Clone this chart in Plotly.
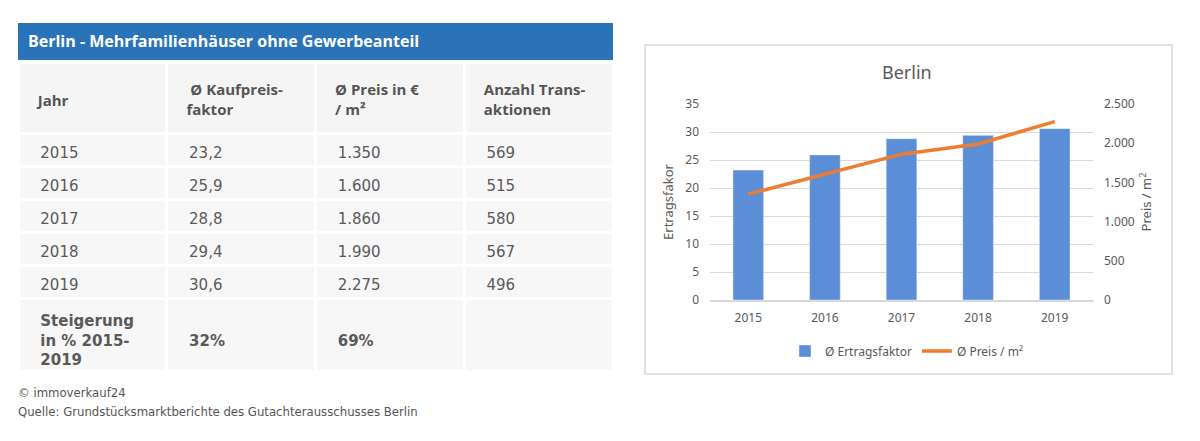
import plotly.graph_objects as go

# ---- data ----
years = ["2015", "2016", "2017", "2018", "2019"]
kaufpreisfaktor = [23.2, 25.9, 28.8, 29.4, 30.6]
preis_m2 = [1350, 1600, 1860, 1990, 2275]
transaktionen = [569, 515, 580, 567, 496]
kpf_labels = ["23,2", "25,9", "28,8", "29,4", "30,6"]
preis_labels = ["1.350", "1.600", "1.860", "1.990", "2.275"]
steigerung_label = ["Steigerung", "in % 2015-", "2019"]
steigerung_kpf = "32%"
steigerung_preis = "69%"
header_labels = [["Jahr"], [" Ø Kaufpreis-", "faktor"], ["Ø Preis in €", "/ m²"], ["Anzahl Trans-", "aktionen"]]
table_title = "Berlin - Mehrfamilienhäuser ohne Gewerbeanteil"
chart_title = "Berlin"
bar_name = "Ø Ertragsfaktor"
line_name = "Ø Preis / m²"
left_axis_title = "Ertragsfakor"
right_axis_title = "Preis / m<sup>2</sup>"
credit = "© immoverkauf24"
source = "Quelle: Grundstücksmarktberichte des Gutachterausschusses Berlin"

W, H = 1200, 441
def px(x):
    return x / W
def py(y):
    return 1 - y / H

NB = "\u00a0"
pad = NB * 3

def cell_lines(parts, bold=False):
    out = []
    for p in parts:
        t = "<b>" + p + "</b>" if bold else p
        out.append(pad + t)
    return "<br>".join(out)

TX0, TX1 = 18, 613
COLW = (TX1 - TX0) / 4
TOP = 62
HEADER_H = 71
ROW_H = 33
TEXT_DROP = 6          # table text is top-aligned; drop it to sit mid-row
HDR2_DROP = 9          # two-line headers sit lower in their cell

data_font = dict(family="DejaVu Sans", size=15, color="#5a5a5a")
hdr_font = dict(family="Open Sans", size=15, color="#555555")
clear = "rgba(0,0,0,0)"

fig = go.Figure()

# background grid of the table (cells and white separators)
n_rows = len(years) + 1
spacer = NB + "<br>" + NB + "<br>" + NB
bg_col = [""] * len(years) + [spacer]
fig.add_trace(go.Table(
    domain=dict(x=[px(TX0), px(TX1)], y=[py(390), py(TOP)]),
    columnwidth=[1, 1, 1, 1],
    header=dict(values=["", "", "", ""], fill_color="#f5f5f5",
                line=dict(color="white", width=3), height=HEADER_H, font=hdr_font),
    cells=dict(values=[bg_col] * 4, fill_color="#f7f7f7",
               line=dict(color="white", width=3), height=ROW_H, font=data_font),
))

# text of column 1
col1 = [pad + y for y in years] + [cell_lines(steigerung_label, bold=True)]
fig.add_trace(go.Table(
    domain=dict(x=[px(TX0), px(TX0 + COLW)], y=[py(390), py(TOP)]),
    header=dict(values=[NB + "<br>" + cell_lines(header_labels[0], bold=True)],
                fill_color=clear, line=dict(color=clear, width=0),
                align="left", height=HEADER_H + TEXT_DROP, font=hdr_font),
    cells=dict(values=[col1], fill_color=clear, line=dict(color=clear, width=0),
               align="left", height=ROW_H, font=data_font),
))

# text of columns 2-4
col2 = [pad + v for v in kpf_labels] + [NB + "<br>" + pad + "<b>" + steigerung_kpf + "</b>"]
col3 = [pad + v for v in preis_labels] + [NB + "<br>" + pad + "<b>" + steigerung_preis + "</b>"]
col4 = [pad + str(v) for v in transaktionen] + [NB]
fig.add_trace(go.Table(
    domain=dict(x=[px(TX0 + COLW), px(TX1)], y=[py(390), py(TOP + HDR2_DROP)]),
    columnwidth=[1, 1, 1],
    header=dict(values=[cell_lines(h, bold=True) for h in header_labels[1:]],
                fill_color=clear, line=dict(color=clear, width=0),
                align="left", height=HEADER_H + TEXT_DROP - HDR2_DROP, font=hdr_font),
    cells=dict(values=[col2, col3, col4], fill_color=clear, line=dict(color=clear, width=0),
               align="left", height=ROW_H, font=data_font),
))

fig.add_trace(go.Bar(
    x=years, y=kaufpreisfaktor, name=bar_name,
    marker=dict(color="#5b8ed6"),
    xaxis="x", yaxis="y",
))
fig.add_trace(go.Scatter(
    x=years, y=preis_m2, name=line_name, mode="lines",
    line=dict(color="#ed7d31", width=3.5),
    xaxis="x", yaxis="y2",
))

axis_font = dict(family="Noto Sans", size=12, color="#595959")

fig.update_layout(
    width=W, height=H,
    margin=dict(l=0, r=0, t=0, b=0, autoexpand=False),
    paper_bgcolor="white",
    plot_bgcolor="white",
    separators=",.",
    bargap=0.6,
    showlegend=True,
    legend=dict(orientation="h", x=px(907), xanchor="center", y=py(351), yanchor="middle",
                font=dict(family="Noto Sans", size=12, color="#595959"),
                traceorder="normal"),
    xaxis=dict(domain=[px(710), px(1093)], type="category", anchor="y",
               showline=True, linecolor="#d9d9d9", linewidth=1.5,
               showgrid=False, ticks="", tickfont=axis_font, ticklabelstandoff=6),
    yaxis=dict(domain=[py(300), py(104)], range=[0, 35], dtick=5, anchor="x",
               showgrid=True, gridcolor="#d9d9d9", gridwidth=1.2, zeroline=False,
               ticks="", tickfont=axis_font, ticklabelstandoff=10,
               title=dict(text=left_axis_title, font=dict(family="Noto Sans", size=13, color="#595959"), standoff=8)),
    yaxis2=dict(overlaying="y", side="right", range=[0, 2500], dtick=500, anchor="x",
                showgrid=False, zeroline=False, tickformat=",d",
                ticks="", tickfont=axis_font, ticklabelstandoff=10,
                title=dict(text=right_axis_title, font=dict(family="Noto Sans", size=13, color="#595959"), standoff=8)),
)

fig.add_shape(type="rect", xref="paper", yref="paper",
              x0=px(645), x1=px(1172), y0=py(374), y1=py(45),
              line=dict(color="#d9d9d9", width=1.5), fillcolor="rgba(0,0,0,0)", layer="below")
fig.add_shape(type="rect", xref="paper", yref="paper",
              x0=px(TX0), x1=px(TX1), y0=py(60), y1=py(23),
              line=dict(width=0), fillcolor="#2b73b9")

fig.add_annotation(text="<b>" + table_title + "</b>", xref="paper", yref="paper",
                   x=px(26), y=py(41), xanchor="left", yanchor="middle", showarrow=False,
                   font=dict(family="Open Sans", size=16, color="white"))
fig.add_annotation(text=chart_title, xref="paper", yref="paper",
                   x=px(907), y=py(72), xanchor="center", yanchor="middle", showarrow=False,
                   font=dict(family="Noto Sans", size=18, color="#595959"))
fig.add_annotation(text=credit, xref="paper", yref="paper",
                   x=px(16), y=py(392), xanchor="left", yanchor="middle", showarrow=False,
                   font=dict(family="Liberation Sans Narrow, DejaVu Sans Condensed", size=13, color="#555555"))
fig.add_annotation(text=source, xref="paper", yref="paper",
                   x=px(16), y=py(411), xanchor="left", yanchor="middle", showarrow=False,
                   font=dict(family="Liberation Sans Narrow, DejaVu Sans Condensed", size=13, color="#555555"))

fig.write_html("out.html", config={"displayModeBar": False},
               post_script="document.body.style.margin='0';")
